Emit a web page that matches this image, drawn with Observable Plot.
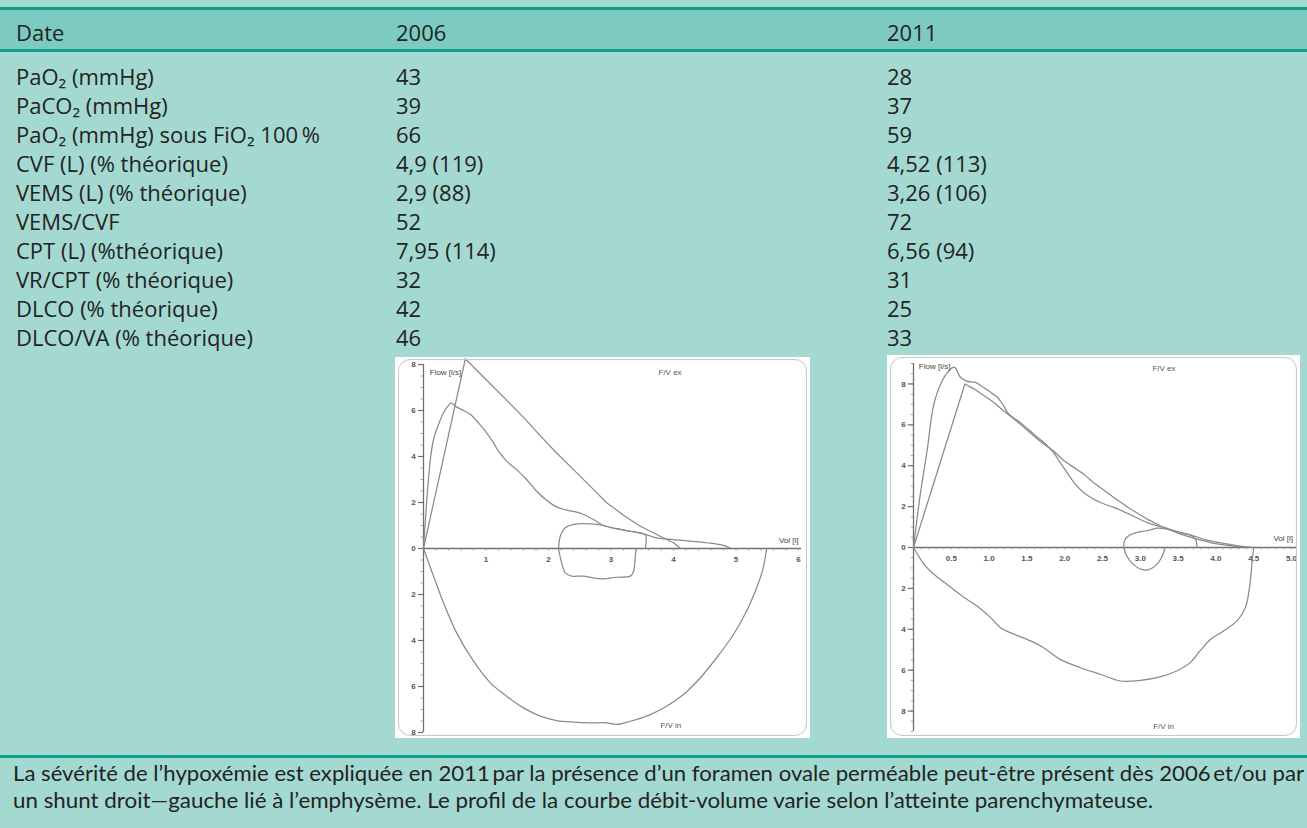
<!DOCTYPE html>
<html><head><meta charset="utf-8">
<script src="https://cdn.jsdelivr.net/npm/d3@7"></script>
<script src="https://cdn.jsdelivr.net/npm/@observablehq/plot@0.6"></script>
<style>
html,body{margin:0;padding:0;}
body{width:1307px;height:828px;background:#a4d9d2;position:relative;overflow:hidden;font-family:"Open Sans",sans-serif;color:#232323;}
.rule{position:absolute;left:0;width:1307px;height:3px;background:#0fa08a;}
.band{position:absolute;left:0;width:1307px;top:10px;height:40px;background:#7dcbc0;}
.t{position:absolute;font-size:22px;line-height:28px;white-space:nowrap;}
.cap{position:absolute;font-family:Lato,"Open Sans",sans-serif;font-size:22px;line-height:26px;white-space:nowrap;transform-origin:0 0;}
.box{position:absolute;background:#fff;overflow:hidden;}
.box svg{display:block;}
.frame{position:absolute;left:3px;top:2px;right:3px;bottom:2px;border:1.5px solid #c9c9c9;border-radius:12px;pointer-events:none;box-shadow:inset 0 0 2px rgba(0,0,0,0.08);}
</style>
</head>
<body>
<script>
// ---------- DATA ----------
const headers = ["Date", "2006", "2011"];
const rowLabels = [
  "PaO\u2082 (mmHg)",
  "PaCO\u2082 (mmHg)",
  "PaO\u2082 (mmHg) sous FiO\u2082 100\u2009%",
  "CVF (L) (% théorique)",
  "VEMS (L) (% théorique)",
  "VEMS/CVF",
  "CPT (L) (%théorique)",
  "VR/CPT (% théorique)",
  "DLCO (% théorique)",
  "DLCO/VA (% théorique)"
];
const values2006 = ["43", "39", "66", "4,9 (119)", "2,9 (88)", "52", "7,95 (114)", "32", "42", "46"];
const values2011 = ["28", "37", "59", "4,52 (113)", "3,26 (106)", "72", "6,56 (94)", "31", "25", "33"];
const captionLines = [
  "La sévérité de l’hypoxémie est expliquée en 2011\u2009par la présence d’un foramen ovale perméable peut-être présent dès 2006\u2009et/ou par",
  "un shunt droit—gauche lié à l’emphysème. Le profil de la courbe débit-volume varie selon l’atteinte parenchymateuse."
];

// axis ticks
const yTickValues2006 = [8, 6, 4, 2, 0, -2, -4, -6, -8];
const yTickLabels2006 = ["8", "6", "4", "2", "0", "2", "4", "6", "8"];
const xTickValues2006 = [1, 2, 3, 4, 5, 6];
const xTickLabels2006 = ["1", "2", "3", "4", "5", "6"];
const yTickValues2011 = [8, 6, 4, 2, 0, -2, -4, -6, -8];
const yTickLabels2011 = ["8", "6", "4", "2", "0", "2", "4", "6", "8"];
const xTickValues2011 = [0.5, 1.0, 1.5, 2.0, 2.5, 3.0, 3.5, 4.0, 4.5, 5.0];
const xTickLabels2011 = ["0.5", "1.0", "1.5", "2.0", "2.5", "3.0", "3.5", "4.0", "4.5", "5.0"];

// 2006 curves [volume (l), flow (l/s)]
const expMeasured2006 = [[0,0],[0.05,1.99],[0.11,3.87],[0.16,4.74],[0.24,5.39],[0.32,5.9],[0.4,6.22],[0.44,6.33],[0.51,6.19],[0.61,6.04],[0.75,5.83],[0.88,5.46],[1.01,5.03],[1.12,4.59],[1.2,4.23],[1.33,3.8],[1.49,3.43],[1.65,3.0],[1.81,2.49],[1.97,2.1],[2.13,1.81],[2.29,1.67],[2.45,1.58],[2.56,1.48],[2.72,1.26],[2.88,1.0],[3.09,0.86],[3.31,0.75],[3.52,0.64],[3.73,0.46],[4.0,0.39],[4.27,0.32],[4.53,0.25],[4.8,0.14],[4.9,0.03]];
const expPredicted2006 = [[0,0],[0.67,8.25],[1.0,7.35],[1.33,6.45],[1.6,5.7],[1.87,4.9],[2.13,4.15],[2.4,3.43],[2.67,2.7],[2.93,1.99],[3.2,1.45],[3.47,0.97],[3.73,0.61],[4.0,0.25],[4.11,0]];
const inspMeasured2006 = [[0,0],[0.16,-1.2],[0.32,-2.36],[0.53,-3.67],[0.8,-4.9],[1.07,-5.84],[1.33,-6.42],[1.6,-6.93],[1.87,-7.29],[2.13,-7.48],[2.4,-7.55],[2.67,-7.58],[2.93,-7.58],[3.09,-7.65],[3.31,-7.51],[3.63,-7.22],[3.89,-6.86],[4.16,-6.35],[4.43,-5.62],[4.69,-4.75],[4.96,-3.74],[5.17,-2.72],[5.33,-1.71],[5.43,-0.91],[5.49,0]];
const tidalExp2006 = [[2.16,0],[2.19,0.54],[2.27,0.9],[2.45,1.07],[2.67,1.07],[2.88,1.0],[3.09,0.86],[3.31,0.75],[3.45,0.68],[3.55,0.6],[3.55,0]];
const tidalInsp2006 = [[2.16,0],[2.21,-0.62],[2.27,-1.06],[2.37,-1.2],[2.56,-1.2],[2.72,-1.28],[2.88,-1.32],[3.09,-1.25],[3.31,-1.2],[3.36,-0.99],[3.39,-0.33],[3.4,0]];

// 2011 curves
const expMeasured2011 = [[0,0],[0.09,2.61],[0.18,4.73],[0.27,7.02],[0.38,8.16],[0.47,8.65],[0.54,8.82],[0.62,8.33],[0.71,8.13],[0.82,8.08],[0.89,7.92],[1.02,7.59],[1.11,7.35],[1.19,6.94],[1.26,6.53],[1.41,6.12],[1.59,5.55],[1.77,4.98],[1.85,4.65],[1.94,4.16],[2.03,3.67],[2.14,3.1],[2.25,2.69],[2.38,2.37],[2.47,2.2],[2.65,1.96],[2.87,1.6],[3.09,1.22],[3.31,0.98],[3.53,0.73],[3.7,0.57],[3.88,0.36],[4.1,0.2],[4.32,0.07],[4.5,0]];
const expPredicted2011 = [[0,0],[0.68,8.0],[0.8,7.76],[0.93,7.43],[1.06,7.1],[1.19,6.69],[1.33,6.29],[1.46,5.88],[1.59,5.47],[1.72,5.06],[1.85,4.73],[1.99,4.24],[2.12,3.92],[2.25,3.59],[2.38,3.18],[2.47,2.94],[2.65,2.45],[2.87,1.88],[3.09,1.39],[3.31,0.98],[3.53,0.65],[3.75,0.41],[3.97,0.2],[4.23,0.07],[4.47,0]];
const inspMeasured2011 = [[0,0],[0.14,-0.82],[0.27,-1.31],[0.44,-1.8],[0.67,-2.45],[0.84,-2.86],[1.02,-3.43],[1.15,-3.92],[1.33,-4.24],[1.55,-4.57],[1.72,-4.9],[1.94,-5.47],[2.21,-5.88],[2.47,-6.2],[2.74,-6.53],[3.0,-6.5],[3.26,-6.33],[3.48,-6.04],[3.66,-5.63],[3.79,-5.06],[3.93,-4.49],[4.1,-4.08],[4.28,-3.59],[4.39,-2.94],[4.45,-1.8],[4.48,-0.65],[4.5,0]];
const tidalExp2011 = [[2.78,0],[2.8,0.41],[2.87,0.62],[2.96,0.74],[3.09,0.82],[3.22,0.95],[3.35,0.9],[3.53,0.73],[3.66,0.62],[3.73,0.41],[3.75,0]];
const tidalInsp2011 = [[2.78,0],[2.82,-0.4],[2.9,-0.8],[3.0,-1.05],[3.1,-1.1],[3.2,-0.9],[3.28,-0.5],[3.33,0]];

// ---------- LAYOUT ----------
function addDiv(cls, style, text) {
  const d = document.createElement("div");
  d.className = cls;
  Object.assign(d.style, style);
  if (text !== undefined) d.textContent = text;
  document.body.appendChild(d);
  return d;
}
addDiv("band", {});
addDiv("rule", {top: "7px"});
addDiv("rule", {top: "49px"});
addDiv("rule", {top: "755px"});

const colX = [16, 396, 887];
const headerY = 32;
const textShift = 14.5;
headers.forEach((h, i) => addDiv("t", {left: colX[i] + "px", top: (headerY - textShift) + "px"}, h));
const rowY0 = 76, rowStep = 29;
rowLabels.forEach((lab, i) => {
  const top = (rowY0 + i * rowStep - textShift) + "px";
  addDiv("t", {left: colX[0] + "px", top}, lab);
  addDiv("t", {left: colX[1] + "px", top}, values2006[i]);
  addDiv("t", {left: colX[2] + "px", top}, values2011[i]);
});
const capY = [773, 800], capW = [1291, 1140];
captionLines.forEach((line, i) => {
  const el = addDiv("cap", {left: "13px", top: (capY[i] - 13) + "px"}, line);
  const w = el.getBoundingClientRect().width;
  el.style.transform = `scaleX(${capW[i] / w})`;
});

// ---------- PLOTS ----------
const toPts = arr => arr.map(([v, f]) => ({v, f}));
function flowLoop(cfg) {
  const lineStyle = {x: "v", y: "f", stroke: "#8a8a8a", strokeWidth: 1.25};
  const axisStroke = "#707070";
  const yTicks = cfg.yTicks.map((v, i) => ({v, label: cfg.yLabels[i]}));
  const xTicks = cfg.xTicks.map((v, i) => ({v, label: cfg.xLabels[i]}));
  const minorY = d3.range(cfg.yDomain[0], cfg.yDomain[1] + 1e-9, cfg.minorYStep);
  const minorX = d3.range(cfg.minorXStep, cfg.xEnd, cfg.minorXStep);
  return Plot.plot({
    width: cfg.width, height: cfg.height,
    marginLeft: cfg.ml, marginRight: cfg.mr, marginTop: cfg.mt, marginBottom: cfg.mb,
    x: {domain: cfg.xDomain, axis: null},
    y: {domain: cfg.yDomain, axis: null},
    style: {background: "white", fontFamily: "'Liberation Sans', Arial, sans-serif", fontSize: "8px", overflow: "visible"},
    marks: [
      Plot.ruleX([0], {y1: cfg.yDomain[0], y2: cfg.yDomain[1], stroke: axisStroke, strokeWidth: 1.3}),
      Plot.ruleY([0], {x1: 0, x2: cfg.xEnd, stroke: axisStroke, strokeWidth: 1.3}),
      Plot.ruleY(minorY, {y: d => d, x1: 0, x2: -cfg.minorLenX, stroke: "#909090", strokeWidth: 0.8}),
      Plot.ruleY(yTicks, {y: "v", x1: 0, x2: -cfg.majorLenX, stroke: "#707070", strokeWidth: 1.2}),
      Plot.text(yTicks, {x: 0, y: "v", text: "label", dx: -10, fill: "#555", fontSize: 8, fontWeight: "bold"}),
      Plot.ruleX(minorX, {x: d => d, y1: 0, y2: -cfg.minorLenY, stroke: "#909090", strokeWidth: 0.8}),
      Plot.text(xTicks, {x: "v", y: 0, text: "label", dy: 11, fill: "#555", fontSize: 8, fontWeight: "bold"}),
      Plot.line(toPts(cfg.insp), {...lineStyle, curve: "catmull-rom"}),
      Plot.line(toPts(cfg.pred), {...lineStyle, curve: "linear"}),
      Plot.line(toPts(cfg.exp), {...lineStyle, curve: "catmull-rom"}),
      Plot.line(toPts(cfg.tidalExp), {...lineStyle, curve: "catmull-rom"}),
      Plot.line(toPts(cfg.tidalInsp), {...lineStyle, curve: "catmull-rom"}),
      Plot.text([cfg.labels.flow], {x: d => d[0], y: d => d[1], text: () => "Flow [l/s]", textAnchor: "start", fill: "#444", fontSize: 8}),
      Plot.text([cfg.labels.fvex], {x: d => d[0], y: d => d[1], text: () => "F/V ex", textAnchor: "start", fill: "#555", fontSize: 8}),
      Plot.text([cfg.labels.vol], {x: d => d[0], y: d => d[1], text: () => "Vol [l]", textAnchor: "end", fill: "#444", fontSize: 8}),
      Plot.text([cfg.labels.fvin], {x: d => d[0], y: d => d[1], text: () => "F/V in", textAnchor: "start", fill: "#555", fontSize: 8})
    ]
  });
}

function placeBox(left, top, w, h, svg) {
  const box = addDiv("box", {left: left + "px", top: top + "px", width: w + "px", height: h + "px"});
  box.appendChild(svg);
  const fr = document.createElement("div");
  fr.className = "frame";
  box.appendChild(fr);
}

placeBox(395, 357, 415, 381, flowLoop({
  width: 415, height: 381, ml: 28, mr: 12, mt: 7, mb: 6,
  xDomain: [0, 6], yDomain: [-8, 8], xEnd: 6.05,
  yTicks: yTickValues2006, yLabels: yTickLabels2006,
  xTicks: xTickValues2006, xLabels: xTickLabels2006,
  minorYStep: 0.5, minorXStep: 0.2, minorLenX: 0.04, majorLenX: 0.08, minorLenY: 0.12,
  exp: expMeasured2006, pred: expPredicted2006, insp: inspMeasured2006,
  tidalExp: tidalExp2006, tidalInsp: tidalInsp2006,
  labels: {flow: [0.1, 7.65], fvex: [3.76, 7.65], vol: [6.0, 0.35], fvin: [3.79, -7.7]}
}));

placeBox(887, 355, 413, 383, flowLoop({
  width: 413, height: 383, ml: 26, mr: 9, mt: 8, mb: 7,
  xDomain: [0, 5], yDomain: [-9, 9], xEnd: 5.07,
  yTicks: yTickValues2011, yLabels: yTickLabels2011,
  xTicks: xTickValues2011, xLabels: xTickLabels2011,
  minorYStep: 0.5, minorXStep: 0.1, minorLenX: 0.03, majorLenX: 0.07, minorLenY: 0.12,
  exp: expMeasured2011, pred: expPredicted2011, insp: inspMeasured2011,
  tidalExp: tidalExp2011, tidalInsp: tidalInsp2011,
  labels: {flow: [0.07, 8.85], fvex: [3.16, 8.75], vol: [5.02, 0.45], fvin: [3.17, -8.73]}
}));
</script>
</body></html>
